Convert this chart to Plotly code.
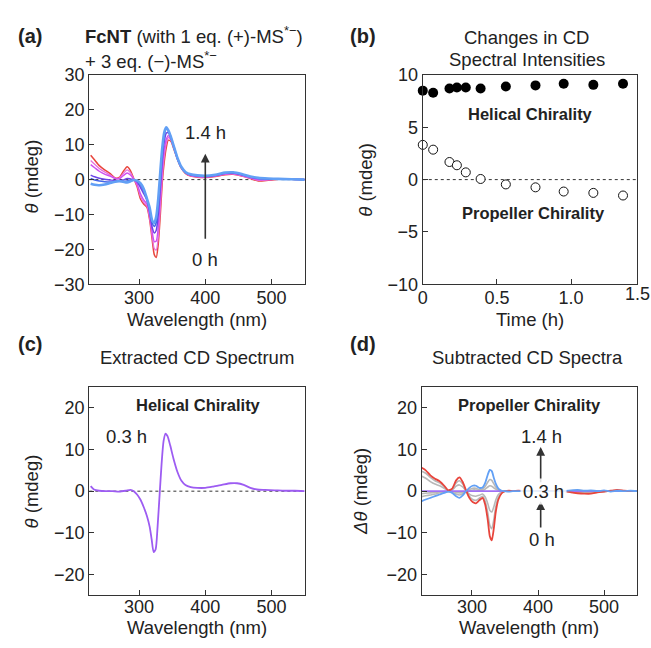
import plotly.graph_objects as go

# ---------------- data ----------------
# Panel (a): CD spectra of FcNT over time
wl_a = [227, 233, 240, 248, 256, 264, 270, 276, 282, 287, 292, 297, 302, 307, 312, 316, 320, 323, 326,
        329, 332, 335, 338, 341, 344, 348, 353, 358, 364, 370, 378, 388, 400, 415, 430, 442, 455, 468,
        480, 495, 510, 530, 550]
a_0h = [7.0, 5.6, 4.0, 2.8, 1.8, 0.5, 0.6, 2.3, 3.7, 2.6, 0.3, -2.0, -5.5, -7.0, -8.0, -11.5, -17.5, -21.5, -22.3,
        -18.5, -10.5, -1.0, 5.0, 9.0, 11.3, 11.0, 8.5, 5.8, 3.2, 1.8, 1.0, 0.7, 0.6, 0.9, 1.4, 1.5, 1.0, 0.3,
        -0.4, -0.2, 0.1, 0.1, 0.0]
a_007h = [5.5, 4.4, 3.2, 2.2, 1.4, 0.4, 0.4, 1.7, 2.8, 2.0, 0.2, -1.6, -4.8, -6.5, -7.6, -11.0, -16.5, -19.8, -20.2,
          -16.5, -8.5, 0.5, 6.5, 10.3, 12.0, 11.4, 8.7, 5.9, 3.3, 1.9, 1.1, 0.8, 0.7, 1.0, 1.5, 1.6, 1.1, 0.4,
          -0.2, -0.1, 0.1, 0.1, 0.0]
a_018h = [4.3, 3.4, 2.4, 1.6, 1.0, 0.3, 0.2, 1.1, 1.9, 1.3, 0.1, -1.2, -4.0, -5.8, -7.0, -10.2, -15.2, -17.8, -17.6,
          -13.5, -5.5, 3.0, 8.5, 11.5, 12.6, 11.6, 8.8, 6.0, 3.4, 2.0, 1.2, 0.9, 0.8, 1.1, 1.6, 1.7, 1.2, 0.5,
          0.0, 0.0, 0.1, 0.1, 0.0]
a_029h = [1.3, 0.8, 0.4, 0.1, -0.1, -0.3, -0.3, -0.1, 0.3, 0.2, 0.0, -0.6, -2.2, -4.0, -6.0, -9.2, -13.8, -15.3, -14.5,
          -10.0, -2.5, 5.5, 10.8, 13.3, 13.5, 12.0, 9.0, 6.0, 3.4, 2.0, 1.3, 1.0, 0.9, 1.2, 1.8, 1.9, 1.4, 0.7,
          0.3, 0.1, 0.1, 0.1, 0.0]
a_056h = [0.3, -0.1, -0.4, -0.6, -0.7, -0.6, -0.5, -0.5, -0.4, -0.2, -0.1, -0.4, -1.4, -3.2, -5.7, -8.5, -12.5, -13.4, -12.2,
          -7.5, 0.0, 7.5, 12.5, 14.5, 14.0, 12.2, 9.1, 6.1, 3.5, 2.1, 1.4, 1.1, 1.0, 1.3, 1.9, 2.0, 1.5, 0.8,
          0.4, 0.2, 0.1, 0.1, 0.0]
a_135h = [-1.2, -1.5, -1.6, -1.4, -1.0, -0.6, -0.4, -0.6, -0.8, -0.5, -0.1, -0.3, -1.0, -2.6, -5.5, -8.0, -11.8, -12.4, -10.6,
          -5.5, 2.0, 9.0, 13.5, 15.0, 14.2, 12.3, 9.2, 6.2, 3.6, 2.2, 1.5, 1.2, 1.1, 1.4, 2.0, 2.1, 1.6, 0.9,
          0.5, 0.3, 0.2, 0.1, 0.0]

# Panel (b): CD intensities vs time
time_h = [0, 0.07, 0.18, 0.23, 0.29, 0.39, 0.56, 0.76, 0.95, 1.15, 1.35]
helical = [8.5, 8.3, 8.7, 8.8, 8.8, 8.7, 8.9, 9.0, 9.15, 9.05, 9.15]
propeller = [3.32, 2.86, 1.68, 1.37, 0.69, 0.06, -0.46, -0.74, -1.14, -1.27, -1.52]

# Panel (c): extracted spectrum (0.3 h)
wl_c = [227, 232, 240, 250, 260, 270, 280, 287, 292, 297, 302, 307, 312, 316, 319, 322, 325, 328, 331, 334,
        337, 340, 343, 347, 352, 358, 364, 370, 378, 388, 400, 412, 425, 438, 448, 458, 468, 478, 490, 505,
        520, 535, 550]
c_03h = [1.2, 0.4, 0.1, 0.0, 0.0, -0.1, 0.1, 0.3, 0.0, -0.8, -2.0, -3.8, -6.0, -8.5, -11.5, -14.6, -14.0, -8.5, -1.0, 6.5,
         12.0, 13.8, 13.2, 11.0, 7.8, 4.6, 2.5, 1.5, 1.0, 0.8, 0.8, 1.1, 1.5, 1.9, 1.9, 1.5, 0.8, 0.4, 0.3, 0.2,
         0.1, 0.1, 0.0]

# Panel (d): subtracted spectra
wl_d = [224, 230, 237, 244, 251, 258, 264, 270, 276, 281, 286, 291, 296, 301, 306, 311, 316, 320, 324, 327,
        330, 333, 336, 340, 345, 350, 356, 362, 370, 380, 400, 420, 440, 450, 460, 470, 480, 490, 500, 510,
        520, 530, 540, 550]
d_0h = [5.6, 5.0, 3.8, 3.0, 2.4, 1.3, 0.2, 0.6, 2.6, 3.3, 2.2, 0.2, -1.6, -2.6, -2.9, -2.2, -1.6, -3.2, -7.0, -10.8,
        -11.8, -9.0, -5.0, -2.0, -0.5, 0.0, 0.1, 0.0, 0.1, 0.0, 0.0, 0.0, 0.0, -0.3, -0.5, -0.6, -0.6, -0.3, -0.1, 0.1,
        0.3, 0.1, 0.0, 0.0]
d_007h = [4.8, 4.3, 3.3, 2.5, 2.0, 1.1, 0.2, 0.5, 2.0, 2.5, 1.7, 0.2, -1.2, -2.0, -2.2, -1.7, -1.2, -2.4, -5.3, -8.2,
          -9.0, -6.9, -3.8, -1.5, -0.4, 0.0, 0.1, 0.0, 0.0, 0.0, 0.0, 0.0, 0.0, -0.2, -0.4, -0.4, -0.4, -0.2, -0.1, 0.1,
          0.2, 0.1, 0.0, 0.0]
d_018h = [3.6, 3.1, 2.3, 1.7, 1.3, 0.7, 0.1, 0.3, 1.2, 1.5, 1.0, 0.1, -0.7, -1.1, -1.2, -1.0, -0.7, -1.4, -3.0, -4.6,
          -5.0, -3.8, -2.1, -0.8, -0.2, 0.0, 0.0, 0.0, 0.0, 0.0, 0.0, 0.0, 0.0, -0.1, -0.2, -0.2, -0.2, -0.1, 0.0, 0.0,
          0.1, 0.0, 0.0, 0.0]
d_039h = [-0.6, -0.5, -0.4, -0.3, -0.2, -0.1, 0.0, -0.1, -0.3, -0.4, -0.3, 0.0, 0.2, 0.3, 0.3, 0.2, 0.2, 0.5, 1.0, 1.3,
          1.2, 0.8, 0.5, 0.2, 0.0, 0.0, 0.0, 0.0, 0.0, 0.0, 0.0, 0.0, 0.0, 0.1, 0.1, 0.0, 0.1, 0.0, 0.1, 0.0,
          0.0, 0.0, 0.0, 0.0]
d_056h = [-1.3, -1.1, -0.9, -0.7, -0.4, -0.2, -0.1, -0.2, -0.7, -0.9, -0.6, 0.0, 0.4, 0.7, 0.7, 0.4, 0.5, 1.1, 2.2, 2.8,
          2.6, 1.8, 1.0, 0.3, 0.1, 0.0, 0.0, 0.0, 0.0, 0.0, 0.0, 0.0, 0.0, 0.1, 0.2, 0.1, 0.1, 0.0, 0.1, 0.0,
          0.1, 0.0, 0.0, 0.0]
d_135h = [-2.4, -2.0, -1.6, -1.2, -0.8, -0.4, -0.1, -0.4, -1.2, -1.6, -1.0, 0.0, 0.8, 1.3, 1.3, 0.8, 0.9, 2.0, 4.0, 5.1,
          4.8, 3.2, 1.8, 0.6, 0.1, 0.0, -0.1, 0.0, 0.0, 0.0, 0.0, 0.0, 0.0, 0.2, 0.3, 0.1, 0.2, 0.0, 0.2, -0.1,
          0.1, 0.0, 0.1, 0.0]
d_ref_wl = [224, 550]
d_ref = [0, 0]

# ---------------- figure ----------------
W, H = 651, 648
def px(p):
    return p / W
def py(p):
    return 1 - p / H

FONT = "Liberation Sans, Arial, sans-serif"
TXT = "#222222"
FS = 18.5     # titles / labels
TFS = 18      # tick labels
fig = go.Figure()

def line(x, y, color, width, xa, ya):
    fig.add_trace(go.Scatter(x=x, y=y, mode="lines", line=dict(color=color, width=width, shape="spline", smoothing=0.6),
                             xaxis=xa, yaxis=ya, showlegend=False, hoverinfo="skip"))

# (a)
for yv, col, w in [(a_0h, "#e8453c", 1.5), (a_007h, "#e870dc", 1.3), (a_018h, "#cf4ff0", 1.4),
                   (a_029h, "#6a45e6", 1.5), (a_056h, "#4466e8", 1.6), (a_135h, "#62a0f5", 2.6)]:
    line(wl_a, yv, col, w, "x", "y")

# (b)
fig.add_trace(go.Scatter(x=time_h, y=helical, mode="markers", marker=dict(size=10, color="black", line=dict(width=0)),
                         xaxis="x2", yaxis="y2", showlegend=False, cliponaxis=False, hoverinfo="skip"))
fig.add_trace(go.Scatter(x=time_h, y=propeller, mode="markers",
                         marker=dict(size=9, color="white", line=dict(width=1, color="#111")),
                         xaxis="x2", yaxis="y2", showlegend=False, cliponaxis=False, hoverinfo="skip"))

# (c)
line(wl_c, c_03h, "#9d5cf2", 1.8, "x3", "y3")

# (d)
for yv in [d_007h, d_018h, d_039h, d_056h]:
    line(wl_d, yv, "#b8b8b8", 1.6, "x4", "y4")
fig.add_trace(go.Scatter(x=d_ref_wl, y=d_ref, mode="lines", line=dict(color="#a070f5", width=1.8),
                         xaxis="x4", yaxis="y4", showlegend=False, hoverinfo="skip"))
line(wl_d, d_0h, "#e8453c", 1.8, "x4", "y4")
line(wl_d, d_135h, "#62a0f5", 1.8, "x4", "y4")

axis_common = dict(showline=True, linecolor="#333", linewidth=1.2, mirror=True, ticks="inside", ticklen=5,
                   tickcolor="#333", tickwidth=1, showgrid=False, zeroline=False,
                   tickfont=dict(family=FONT, size=TFS, color=TXT))

dom_ax = [px(85), px(302)]
dom_bx = [px(421), px(637)]
dom_dx = [px(420), px(637)]
dom_top = [py(283), py(67)]
dom_bot = [py(604), py(389)]

fig.update_layout(
    width=W, height=H, margin=dict(l=0, r=0, t=0, b=0), autosize=False,
    paper_bgcolor="white", plot_bgcolor="white",
    font=dict(family=FONT, color=TXT),
    xaxis=dict(domain=dom_ax, range=[225, 550], tickvals=[300, 400, 500], anchor="y",
               ticklabelstandoff=-3, **axis_common),
    yaxis=dict(domain=dom_top, range=[-30, 30], tickvals=[-30, -20, -10, 0, 10, 20, 30],
               ticktext=["−30", "−20", "−10", "0", "10", "20", "30"], anchor="x", **axis_common),
    xaxis2=dict(domain=dom_bx, range=[0, 1.445], tickvals=[0, 0.5, 1.0], ticktext=["0", "0.5", "1.0"],
                anchor="y2", ticklabelstandoff=-3, **axis_common),
    yaxis2=dict(domain=dom_top, range=[-10, 10], tickvals=[-10, -5, 0, 5, 10],
                ticktext=["−10", "−5", "0", "5", "10"], anchor="x2", **axis_common),
    xaxis3=dict(domain=dom_ax, range=[225, 550], tickvals=[300, 400, 500], anchor="y3",
                ticklabelstandoff=-5, **axis_common),
    yaxis3=dict(domain=dom_bot, range=[-25, 25], tickvals=[-20, -10, 0, 10, 20],
                ticktext=["−20", "−10", "0", "10", "20"], anchor="x3", **axis_common),
    xaxis4=dict(domain=dom_dx, range=[224, 550], tickvals=[300, 400, 500], anchor="y4",
                ticklabelstandoff=-5, **axis_common),
    yaxis4=dict(domain=dom_bot, range=[-25, 25], tickvals=[-20, -10, 0, 10, 20],
                ticktext=["−20", "−10", "0", "10", "20"], anchor="x4", **axis_common),
)

# dotted zero lines
for xr, yr in [("x domain", "y"), ("x2 domain", "y2"), ("x3 domain", "y3")]:
    fig.add_shape(type="line", xref=xr, yref=yr, x0=0, x1=1, y0=0, y1=0, layer="below",
                  line=dict(color="#333", width=1, dash="dot"))

ann = []
def A(text, x, y, xref="paper", yref="paper", size=FS, xanchor="center", yanchor="middle", **kw):
    ann.append(dict(text=text, x=x, y=y, xref=xref, yref=yref, showarrow=False, xanchor=xanchor, yanchor=yanchor,
                    font=dict(family=FONT, size=size, color=TXT), **kw))

# panel letters
A("<b>(a)</b>", px(25), py(27), size=20)
A("<b>(b)</b>", px(361), py(27), size=20)
A("<b>(c)</b>", px(25), py(345), size=20)
A("<b>(d)</b>", px(361), py(345), size=20)

# titles
A("<b>FcNT</b> (with 1 eq. (+)-MS<sup>*−</sup>)", px(79), py(26), xanchor="left")
A("+ 3 eq. (−)-MS<sup>*−</sup>", px(79), py(52), xanchor="left")
A("Changes in CD", px(526), py(28))
A("Spectral Intensities", px(526), py(51))
A("Extracted CD Spectrum", px(193), py(359))
A("Subtracted CD Spectra", px(527), py(359))

# axis titles
A("Wavelength (nm)", px(193), py(319))
A("Time (h)", px(529), py(319))
A("Wavelength (nm)", px(193), py(637))
A("Wavelength (nm)", px(528), py(637))
A("<i>θ</i> (mdeg)", px(27), py(172), textangle=-90)
A("<i>θ</i> (mdeg)", px(363), py(175), textangle=-90)
A("<i>θ</i> (mdeg)", px(27), py(497), textangle=-90)
A("<i>Δθ</i> (mdeg)", px(358), py(497), textangle=-90)
A("1.5", px(637), py(293), size=TFS)

# in-plot labels
A("1.4 h", 400, 13.6, "x", "y")
A("0 h", 399, -22.9, "x", "y")
A("<b>Helical Chirality</b>", 0.724, 6.28, "x2", "y2", size=16.5)
A("<b>Propeller Chirality</b>", 0.747, -3.19, "x2", "y2", size=16.5)
A("<b>Helical Chirality</b>", 389.5, 20.6, "x3", "y3", size=16.5)
A("0.3 h", 281, 13.1, "x3", "y3")
A("<b>Propeller Chirality</b>", 386.4, 20.6, "x4", "y4", size=16.5)
A("1.4 h", 406, 13.1, "x4", "y4")
A("0 h", 406, -11.7, "x4", "y4")

# arrows
def arrow(x, y0, y1, xr, yr):
    ann.append(dict(x=x, y=y1, ax=x, ay=y0, xref=xr, yref=yr, axref=xr, ayref=yr, text="", showarrow=True,
                    arrowhead=2, arrowsize=1.1, arrowwidth=1.6, arrowcolor="#333"))

arrow(400, -17.4, 7.4, "x", "y")
arrow(404, -9.1, -2.4, "x4", "y4")
arrow(404, 1.8, 10.6, "x4", "y4")
A("0.3 h", 408, 0, "x4", "y4", bgcolor="rgba(255,255,255,0.85)", borderpad=2)

fig.update_layout(annotations=ann)
fig.write_html("out.html", config={"displayModeBar": False},
               post_script="document.body.style.margin='0px';document.body.style.overflow='hidden';")
